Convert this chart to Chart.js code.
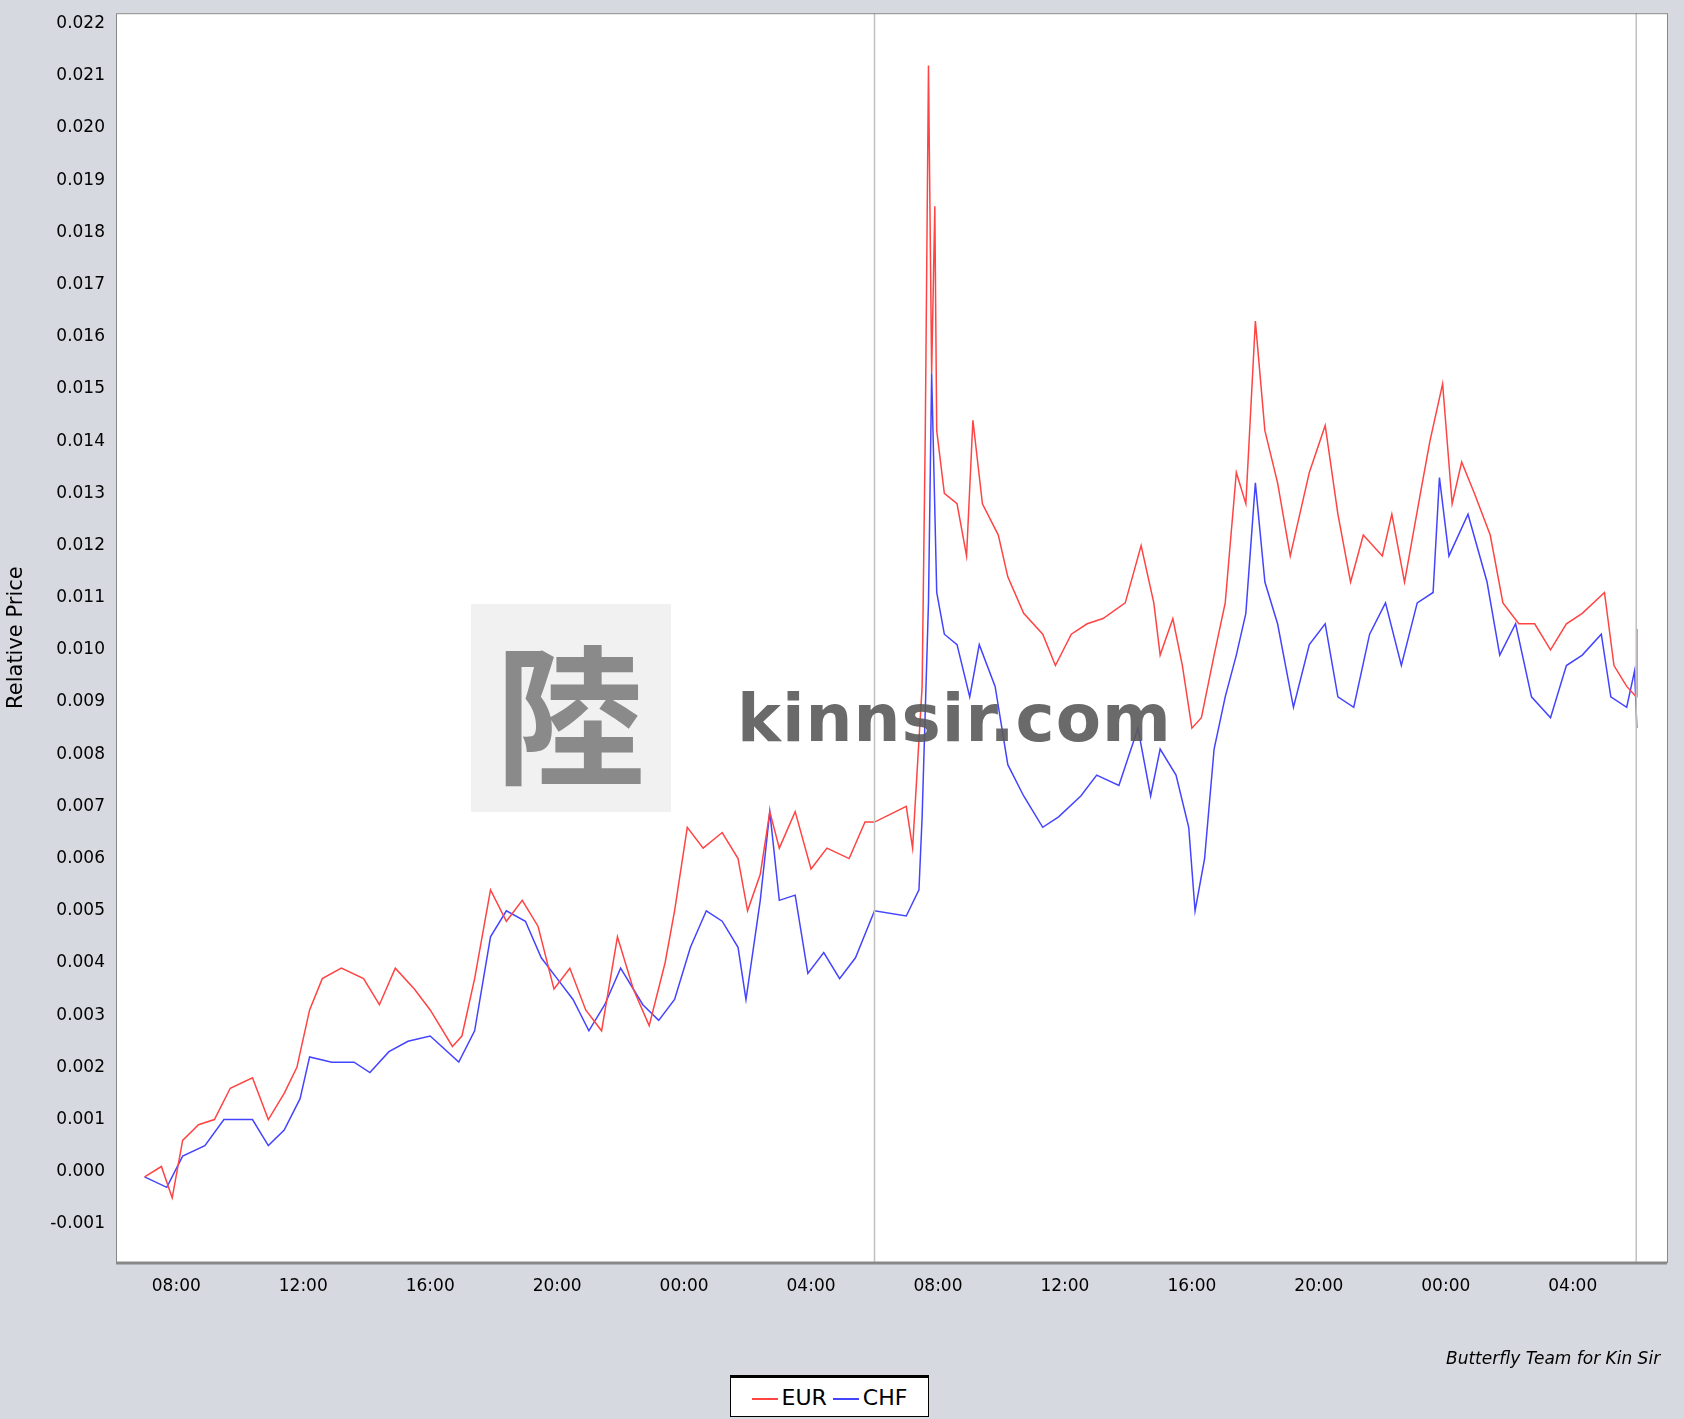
<!DOCTYPE html>
<html><head><meta charset="utf-8">
<script src="https://cdn.jsdelivr.net/npm/chart.js@4"></script>
<style>
body{margin:0;background:#d6d9e0;width:1684px;height:1419px;overflow:hidden;position:relative;font-family:"DejaVu Sans",sans-serif}
#wrap{position:absolute;left:0;top:0;width:1684px;height:1419px}
#credit{position:absolute;left:1446px;top:1348px;font-style:italic;font-size:17px;white-space:nowrap;width:240px;overflow:hidden}
#legend{position:absolute;left:730px;top:1375px;width:199px;height:42px;background:#fff;border:1px solid #000;border-top:3px solid #000;box-sizing:border-box;font-size:22px;display:flex;align-items:center;justify-content:center;gap:6px}
.sw{display:inline-block;width:26px;height:2px;vertical-align:middle;margin-right:4px}
#wm{position:absolute;left:737px;top:680px;font:bold 66px "DejaVu Sans",sans-serif;color:rgba(90,90,90,0.9);letter-spacing:1px}
#logo{position:absolute;left:471px;top:604px;width:200px;height:208px;background:rgba(230,230,230,0.55);font:bold 150px "Noto Sans CJK SC";color:rgba(120,120,120,0.85);line-height:208px;text-align:center}
</style></head><body>
<div id="wrap"><canvas id="c" width="1684" height="1419"></canvas></div>
<div id="logo">陸</div>
<div id="wm">kinnsir.com</div>
<div id="credit">Butterfly Team for Kin Sir</div>
<div id="legend"><span><span class="sw" style="background:#ff4444"></span>EUR</span><span><span class="sw" style="background:#4444ff"></span>CHF</span></div>
<script>
const seriesNames=["EUR","CHF"];
const tickHours=[8,12,16,20,24,28,32,36,40,44,48,52];
const eurX=[7.0,7.53,7.87,8.2,8.7,9.2,9.7,10.4,10.9,11.4,11.8,12.2,12.6,13.2,13.9,14.4,14.9,15.5,16.0,16.7,17.0,17.4,17.9,18.4,18.9,19.4,19.9,20.4,20.9,21.4,21.9,22.4,22.9,23.4,23.7,24.1,24.6,25.2,25.7,26.0,26.4,26.7,27.0,27.5,28.0,28.5,29.2,29.7,30.0,31.0,31.2,31.5,31.6,31.7,31.8,31.9,31.96,32.2,32.6,32.9,33.1,33.4,33.9,34.2,34.7,35.3,35.7,36.2,36.7,37.2,37.9,38.4,38.8,39.0,39.4,39.7,40.0,40.3,40.7,41.05,41.4,41.7,42.0,42.3,42.7,43.1,43.4,43.7,44.2,44.6,45.0,45.4,46.0,46.3,46.7,47.2,47.5,47.9,48.2,48.5,48.9,49.4,49.8,50.3,50.8,51.3,51.8,52.3,53.0,53.3,53.7,54.0,54.02];
const eurY=[-0.0001,0.0001,-0.0005,0.0006,0.0009,0.0010,0.0016,0.0018,0.0010,0.0015,0.0020,0.0031,0.0037,0.0039,0.0037,0.0032,0.0039,0.0035,0.0031,0.0024,0.0026,0.0037,0.0054,0.0048,0.0052,0.0047,0.0035,0.0039,0.0031,0.0027,0.0045,0.0035,0.0028,0.0040,0.0050,0.0066,0.0062,0.0065,0.0060,0.0050,0.0057,0.0069,0.0062,0.0069,0.0058,0.0062,0.0060,0.0067,0.0067,0.0070,0.0062,0.0093,0.0142,0.0212,0.0153,0.0185,0.0142,0.0130,0.0128,0.0118,0.0144,0.0128,0.0122,0.0114,0.0107,0.0103,0.0097,0.0103,0.0105,0.0106,0.0109,0.0120,0.0109,0.0099,0.0106,0.0097,0.0085,0.0087,0.0099,0.0109,0.0134,0.0128,0.0163,0.0142,0.0132,0.0118,0.0126,0.0134,0.0143,0.0126,0.0113,0.0122,0.0118,0.0126,0.0113,0.0130,0.0140,0.0151,0.0128,0.0136,0.0130,0.0122,0.0109,0.0105,0.0105,0.0100,0.0105,0.0107,0.0111,0.0097,0.0093,0.0091,0.0104,0.0093];
const chfX=[7.0,7.7,8.2,8.9,9.5,10.4,10.9,11.4,11.9,12.2,12.9,13.6,14.1,14.7,15.3,16.0,16.9,17.4,17.9,18.4,19.0,19.5,20.0,20.5,21.0,21.5,22.0,22.7,23.2,23.7,24.2,24.7,25.2,25.7,25.95,26.4,26.7,27.0,27.5,27.9,28.4,28.9,29.4,30.0,31.0,31.4,31.5,31.7,31.8,31.96,32.2,32.6,33.0,33.3,33.8,34.2,34.7,35.3,35.8,36.5,37.0,37.7,38.3,38.7,39.0,39.5,39.9,40.1,40.4,40.7,41.05,41.4,41.7,42.0,42.3,42.7,43.2,43.7,44.2,44.6,45.1,45.6,46.1,46.6,47.1,47.6,47.8,48.1,48.7,49.3,49.7,50.2,50.7,51.3,51.8,52.3,52.9,53.2,53.7,53.95,54.02];
const chfY=[-0.0001,-0.0003,0.0003,0.0005,0.0010,0.0010,0.0005,0.0008,0.0014,0.0022,0.0021,0.0021,0.0019,0.0023,0.0025,0.0026,0.0021,0.0027,0.0045,0.0050,0.0048,0.0041,0.0037,0.0033,0.0027,0.0032,0.0039,0.0032,0.0029,0.0033,0.0043,0.0050,0.0048,0.0043,0.0033,0.0052,0.0069,0.0052,0.0053,0.0038,0.0042,0.0037,0.0041,0.0050,0.0049,0.0054,0.0068,0.0109,0.0153,0.0111,0.0103,0.0101,0.0091,0.0101,0.0093,0.0078,0.0072,0.0066,0.0068,0.0072,0.0076,0.0074,0.0085,0.0072,0.0081,0.0076,0.0066,0.0050,0.0060,0.0081,0.0091,0.0099,0.0107,0.0132,0.0113,0.0105,0.0089,0.0101,0.0105,0.0091,0.0089,0.0103,0.0109,0.0097,0.0109,0.0111,0.0133,0.0118,0.0126,0.0113,0.0099,0.0105,0.0091,0.0087,0.0097,0.0099,0.0103,0.0091,0.0089,0.0096,0.0085];
const pts=(xs,ys)=>xs.map((x,i)=>({x:x,y:ys[i]}));
const fmt=h=>String(Math.round(h)%24).padStart(2,'0')+':00';
const vlines={id:'vl',afterDatasetsDraw(c){const g=c.ctx,a=c.chartArea,xs=c.scales.x;g.save();g.strokeStyle='#c0c0c0';g.lineWidth=1.5;[30,54].forEach(h=>{const p=xs.getPixelForValue(h);g.beginPath();g.moveTo(p,a.top);g.lineTo(p,a.bottom);g.stroke();});g.restore();}};
const bg={id:'bg',beforeDraw(c){const g=c.ctx,a=c.chartArea;g.save();g.fillStyle='#fff';g.fillRect(a.left,a.top,a.right-a.left,a.bottom-a.top);g.restore();},afterDraw(c){const g=c.ctx,a=c.chartArea;g.save();g.strokeStyle='#888';g.lineWidth=1;g.strokeRect(a.left+0.5,a.top+0.5,a.right-a.left,a.bottom-a.top);g.lineWidth=3;g.beginPath();g.moveTo(a.left,a.bottom+1);g.lineTo(a.right,a.bottom+1);g.stroke();g.restore();}};
new Chart(document.getElementById('c'),{type:'scatter',
data:{datasets:[
{label:seriesNames[0],data:pts(eurX,eurY),showLine:true,borderColor:'#ff4444',borderWidth:1.5,pointRadius:0,tension:0},
{label:seriesNames[1],data:pts(chfX,chfY),showLine:true,borderColor:'#4444ff',borderWidth:1.5,pointRadius:0,tension:0}]},
options:{responsive:false,animation:false,layout:{padding:{top:11,right:17,left:0,bottom:0}},
plugins:{legend:{display:false},tooltip:{enabled:false}},
scales:{
x:{type:'linear',min:6.1,max:54.97,afterBuildTicks(s){s.ticks=tickHours.map(v=>({value:v}));},afterFit(s){s.height=157;},
 grid:{display:false,drawTicks:true},border:{display:false},
 ticks:{callback:v=>fmt(v),color:'#000',font:{family:'DejaVu Sans',size:17},maxRotation:0,autoSkip:false,padding:6},
 title:{display:true,text:'Time',color:'#000',font:{family:'DejaVu Sans',size:22},padding:{top:4}}},
y:{min:-0.00173,max:0.0222,afterBuildTicks(s){const t=[];for(let i=-1;i<=22;i++)t.push({value:i/1000});s.ticks=t;},afterFit(s){s.width=116;},
 grid:{display:false},border:{display:false},
 ticks:{callback:v=>v.toFixed(3),color:'#000',font:{family:'DejaVu Sans',size:17},autoSkip:false},
 title:{display:true,text:'Relative Price',color:'#000',font:{family:'DejaVu Sans',size:21},padding:{bottom:2}}}}},
plugins:[bg,vlines]});
</script></body></html>
